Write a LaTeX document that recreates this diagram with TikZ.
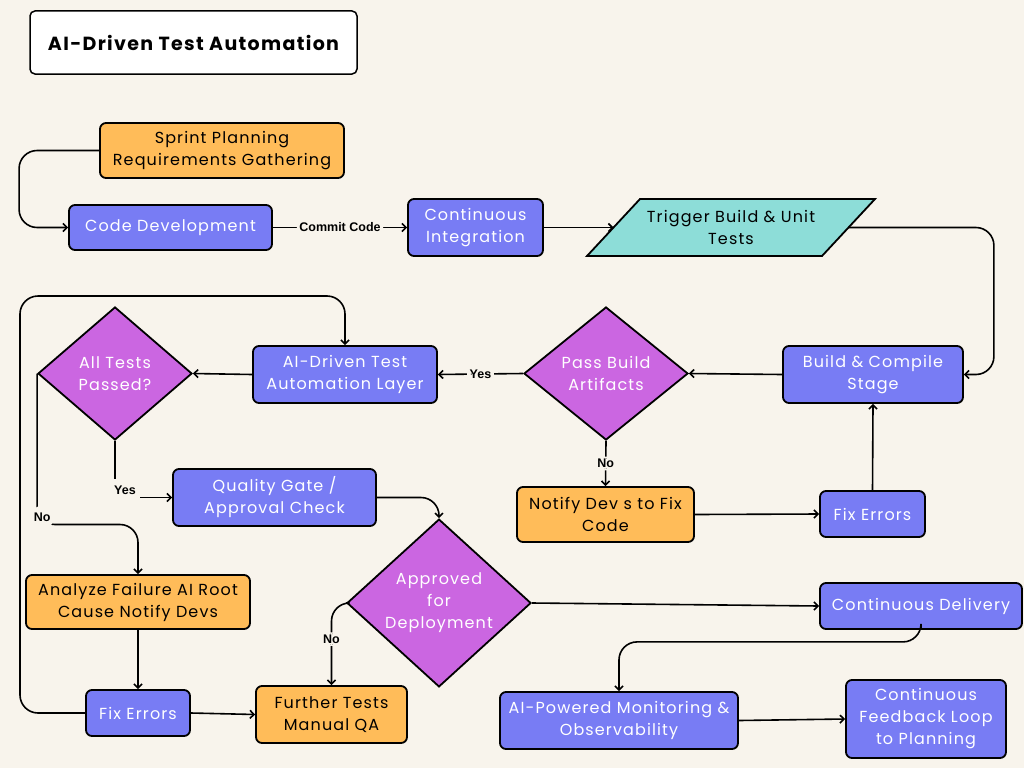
\documentclass[tikz,border=0pt]{standalone}
\usepackage{fontspec}
\setmainfont{Poppins}[LetterSpace=7]
\newfontfamily\labelfont{Liberation Sans}
\usetikzlibrary{arrows.meta,shapes.geometric,calc}
\definecolor{bg}{HTML}{F8F4EC}
\definecolor{bluebox}{HTML}{787CF4}
\definecolor{orangebox}{HTML}{FFBC59}
\definecolor{purplebox}{HTML}{CB66E1}
\definecolor{cyanbox}{HTML}{8DDDD8}
\tikzset{
  basebox/.style={draw=black, line width=1.8pt, rounded corners=6pt, align=center,
    inner sep=0pt, font=\fontsize{16}{22}\selectfont},
  bluenode/.style={basebox, fill=bluebox, text=white},
  orangenode/.style={basebox, fill=orangebox, text=black},
  decision/.style={diamond, draw=black, line width=1.8pt, fill=purplebox, text=white,
    align=center, inner sep=0pt, font=\fontsize{16}{22}\selectfont},
  conn/.style={line width=1.6pt, rounded corners=18pt, -{Straight Barb[length=4pt,width=8pt]}},
  lbl/.style={fill=bg, font=\labelfont\bfseries\fontsize{12.5}{14}\selectfont, inner sep=2.5pt, text=black},
  cornerlbl/.style={lbl, inner sep=0pt}
}
\begin{document}
\begin{tikzpicture}[x=1pt,y=-1pt]
\fill[bg] (0,0) rectangle (1024,768);
\useasboundingbox (0,0) rectangle (1024,768);

\node[draw=black, line width=1.5pt, fill=white, rounded corners=5pt, minimum width=327pt, minimum height=63pt,
  font=\bfseries\fontsize{19}{22}\selectfont] (title) at (193.5,42.5) {AI-Driven Test Automation};

\node[orangenode, minimum width=244pt, minimum height=55pt] (sprint) at (222,150.5) {Sprint Planning\\Requirements Gathering};
\node[bluenode, minimum width=203pt, minimum height=45pt] (code) at (170.5,227.5) {Code Development};
\node[bluenode, minimum width=135pt, minimum height=57pt] (ci) at (475.5,227.5) {Continuous\\Integration};

\fill[cyanbox] (587,256) -- (640,199) -- (875,199) -- (822,256) -- cycle;
\draw[line width=1.8pt, line join=miter] (587,256) -- (640,199) -- (875,199) -- (822,256) -- cycle;
\node[font=\fontsize{16}{22}\selectfont, align=center, text=black] (trig) at (731,227) {Trigger Build \& Unit\\Tests};
\coordinate (trigL) at (613.5,227.5);
\coordinate (trigR) at (848.5,227.5);

\node[bluenode, minimum width=180pt, minimum height=57pt] (build) at (873,374.5) {Build \& Compile\\Stage};
\node[decision, minimum width=164pt, minimum height=133pt] (pass) at (606,373.5) {Pass Build\\Artifacts};
\node[bluenode, minimum width=184pt, minimum height=57pt] (aitl) at (345,374.5) {AI-Driven Test\\Automation Layer};
\node[decision, minimum width=154pt, minimum height=133pt] (alltests) at (115,373.5) {All Tests\\Passed?};
\node[bluenode, minimum width=203pt, minimum height=57pt] (qg) at (274.5,497.5) {Quality Gate /\\Approval Check};
\node[orangenode, minimum width=177pt, minimum height=55pt] (notify) at (605.5,514.5) {Notify Dev s to Fix\\Code};
\node[bluenode, minimum width=105pt, minimum height=46pt] (fixR) at (872.5,514) {Fix Errors};
\node[decision, minimum width=184pt, minimum height=148pt] (approved) at (439,603) {Approved\\for\\Deployment};
\node[orangenode, minimum width=224pt, minimum height=54pt] (analyze) at (138,602) {Analyze Failure AI Root\\Cause Notify Devs};
\node[bluenode, minimum width=104pt, minimum height=46pt] (fixL) at (138,713) {Fix Errors};
\node[orangenode, minimum width=151pt, minimum height=57pt] (further) at (331.5,714.5) {Further Tests\\Manual QA};
\node[bluenode, minimum width=202pt, minimum height=46pt] (cd) at (921,606) {Continuous Delivery};
\node[bluenode, minimum width=238pt, minimum height=57pt] (monitor) at (619,720.5) {AI-Powered Monitoring \&\\Observability};
\node[bluenode, minimum width=160pt, minimum height=78pt] (feedback) at (926,719) {Continuous\\Feedback Loop\\to Planning};

% connectors
\draw[conn] (sprint.west) -- ++(-80,0) |- (code.west);
\draw[conn] (code.east) -- node[lbl]{Commit Code} (ci.west);
\draw[conn] (ci.east) -- (trigL);
\draw[conn] (trigR) -| ($(build.east)+(30,0)$) -- (build.east);
\draw[conn] (build.west) -- (pass.east);
\draw[conn] (pass.west) -- node[lbl]{Yes} (aitl.east);
\draw[conn] (pass.south) -- node[lbl]{No} (notify.north);
\draw[conn] (notify.east) -- (fixR.west);
\draw[conn] (fixR.north) -- (build.south);
\draw[conn] (aitl.west) -- (alltests.east);
\draw[conn, rounded corners=0pt] (alltests.south) |- node[cornerlbl, pos=0.5, xshift=10pt, yshift=7pt, minimum width=30pt, minimum height=24pt]{Yes} (qg.west);
\draw[conn] (alltests.west) -- ++(0,151) node[cornerlbl, xshift=5pt, yshift=7pt, minimum width=28pt, minimum height=26pt]{No} -| (analyze.north);
\draw[conn] (analyze.south) -- (fixL.north);
\draw[conn] (fixL.west) -| (20,296) -| (aitl.north);
\draw[conn] (fixL.east) -- (further.west);
\draw[conn] (qg.east) -| (approved.north);
\draw[conn] (approved.west) -| node[lbl, pos=0.72]{No} (further.north);
\draw[conn] (approved.east) -- (cd.west);
\draw[conn] (cd.south) -- ++(0,12) -| (monitor.north);
\draw[conn] (monitor.east) -- (feedback.west);
\end{tikzpicture}
\end{document}
